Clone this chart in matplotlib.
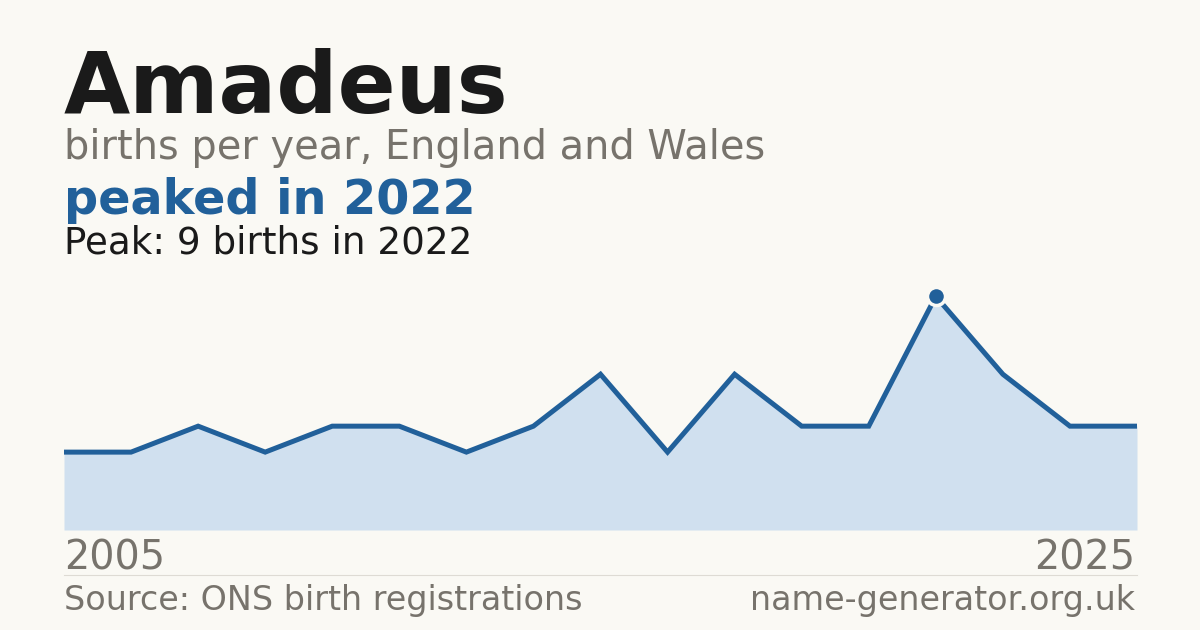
import matplotlib
matplotlib.use("Agg")
import matplotlib.pyplot as plt

plt.rcParams['font.family'] = ['DejaVu Sans']

# data
years = list(range(2009, 2026))
births = [3, 3, 4, 3, 4, 4, 3, 4, 6, 3, 6, 4, 4, 9, 6, 4, 4]
end_labels = ["2005", "2025"]

title = "Amadeus"
subtitle = "births per year, England and Wales"
headline = "peaked in 2022"
peak_note = "Peak: 9 births in 2022"
source = "Source: ONS birth registrations"
site = "name-generator.org.uk"

BG = "#faf9f4"
BLUE = "#21609a"
FILL = "#d0e0ef"
GREY = "#77736c"
INK = "#1a1a1a"

W, H = 1200, 630
fig = plt.figure(figsize=(W / 100, H / 100), dpi=100, facecolor=BG)


def fy(px):
    return 1 - px / H


left, right = 64, 1137
ax_top, ax_bot = 273, 530
ax = fig.add_axes([left / W, 1 - ax_bot / H, (right - left) / W, (ax_bot - ax_top) / H])
ax.set_facecolor(BG)
ax.fill_between(years, births, 0, color=FILL, lw=0)
ax.plot(years, births, color=BLUE, lw=3.6, solid_joinstyle='miter', solid_capstyle='butt')

peak_i = births.index(max(births))
ax.plot([years[peak_i]], [births[peak_i]], 'o', ms=13, color=BLUE,
        mec=BG, mew=2.5, zorder=5)

ax.set_xlim(years[0], years[-1])
ax.set_ylim(0, max(births) * 1.1)
ax.axis('off')

fig.text(left / W, fy(113), title, fontsize=61.7, fontweight='bold', color=INK, va='baseline')
fig.text(left / W, fy(159), subtitle, fontsize=28.7, color=GREY, va='baseline')
fig.text(left / W, fy(214), headline, fontsize=34.4, fontweight='bold', color=BLUE, va='baseline')
fig.text(left / W, fy(253), peak_note, fontsize=26.8, color=INK, va='baseline')

fig.text(left / W, fy(570), end_labels[0], fontsize=28.6, color=GREY, va='baseline', ha='left')
fig.text(1135 / W, fy(570), end_labels[1], fontsize=28.6, color=GREY, va='baseline', ha='right')

fig.add_artist(plt.Line2D([left / W, right / W], [fy(574.5), fy(574.5)],
                          color="#dedbd4", lw=0.8))

fig.text(left / W, fy(610), source, fontsize=24, color=GREY, va='baseline')
fig.text(1135 / W, fy(610), site, fontsize=24, color=GREY, va='baseline', ha='right')

fig.savefig("out.png", dpi=100, facecolor=BG)
